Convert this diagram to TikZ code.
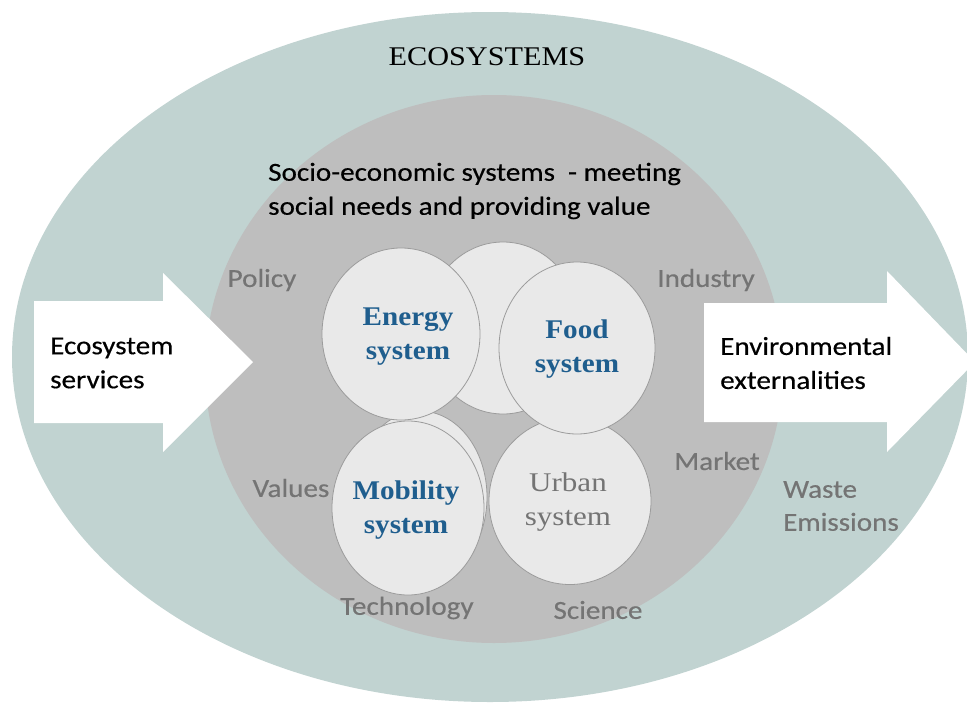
\documentclass[tikz,border=0pt]{standalone}
\usepackage{fontspec}
\setmainfont{Liberation Serif}
\newfontfamily\calib[FakeStretch=1.12,FakeBold=0.4]{Carlito}
\newfontfamily\ecoserif[FakeStretch=1.12]{Liberation Serif}
\newfontfamily\sysserif[FakeStretch=1.08]{Liberation Serif}
\newfontfamily\urbserif[FakeStretch=1.15]{Liberation Serif}
\usetikzlibrary{shapes.geometric}
\definecolor{ecoteal}{HTML}{C1D3D1}
\definecolor{socgrey}{HTML}{BEBEBE}
\definecolor{circfill}{HTML}{E9E9E9}
\definecolor{circline}{HTML}{9C9C9C}
\definecolor{lblgrey}{HTML}{747474}
\definecolor{sysblue}{HTML}{1F5E8E}
\tikzset{
  x=1pt, y=-1pt,
  sysc/.style={ellipse, fill=circfill, draw=circline, line width=0.8pt, inner sep=0pt},
  lbl/.style={text=lblgrey, font=\calib\fontsize{26}{30}\selectfont, inner sep=0pt},
  maintxt/.style={text=black, font=\calib\fontsize{26}{34}\selectfont, align=left, inner sep=0pt},
  systxt/.style={text=sysblue, font=\sysserif\bfseries\fontsize{27}{34}\selectfont, align=center, inner sep=0pt},
  arrowbody/.style={fill=white, draw=none}
}
\begin{document}
\begin{tikzpicture}
\useasboundingbox (0,0) rectangle (967,704);
\clip (0,0) rectangle (967,704);
\fill[white] (0,0) rectangle (967,704);
% outer and inner regions
\node[ellipse, fill=ecoteal, minimum width=956pt, minimum height=690pt, inner sep=0pt] (eco) at (490,357) {};
\node[ellipse, fill=socgrey, minimum width=578pt, minimum height=548pt, inner sep=0pt] (soc) at (494,369) {};
\node[font=\ecoserif\fontsize{27}{30}\selectfont, inner sep=0pt] (ecot) at (487,57) {ECOSYSTEMS};
\node[maintxt, anchor=west] (soct) at (268,191) {Socio-economic systems\ \ - meeting\\social needs and providing value};
% arrows
\fill[arrowbody] (34,301) -- (163,301) -- (163,273) -- (253,362) -- (163,452) -- (163,423) -- (34,423) -- cycle;
\fill[arrowbody] (704,303) -- (887,303) -- (887,271) -- (975,362) -- (887,452) -- (887,422) -- (704,422) -- cycle;
\node[maintxt, anchor=west] (ess) at (50,363) {Ecosystem\\services};
\node[maintxt, anchor=west] (env) at (720,363) {Environmental\\externalities};
% system circles
\node[sysc, minimum width=156pt, minimum height=172pt] (backtop) at (503,328) {};
\node[sysc, minimum width=134pt, minimum height=172pt] (backbot) at (420,497) {};
\node[sysc, minimum width=162pt, minimum height=167pt] (urban) at (570,501) {};
\node[sysc, minimum width=152pt, minimum height=174pt] (mobility) at (408,508) {};
\node[sysc, minimum width=158pt, minimum height=172pt] (energy) at (401,334) {};
\node[sysc, minimum width=156pt, minimum height=172pt] (food) at (577,348) {};
\node[systxt] at (408,337) {Energy\\system};
\node[systxt] at (577,349) {Food\\system};
\node[systxt] at (406,510) {Mobility\\system};
\node[systxt, text=lblgrey, font=\urbserif\fontsize{27}{34}\selectfont] at (568,502) {Urban\\system};
% labels
\node[lbl] (policy) at (262,280) {Policy};
\node[lbl] (industry) at (706,280) {Industry};
\node[lbl] (values) at (291,488) {Values};
\node[lbl] (market) at (717,461) {Market};
\node[lbl] (techn) at (407,608) {Technology};
\node[lbl] (science) at (598,610) {Science};
\node[lbl, anchor=west, align=left, font=\calib\fontsize{26}{33}\selectfont] (waste) at (783,506) {Waste\\Emissions};
\end{tikzpicture}
\end{document}
